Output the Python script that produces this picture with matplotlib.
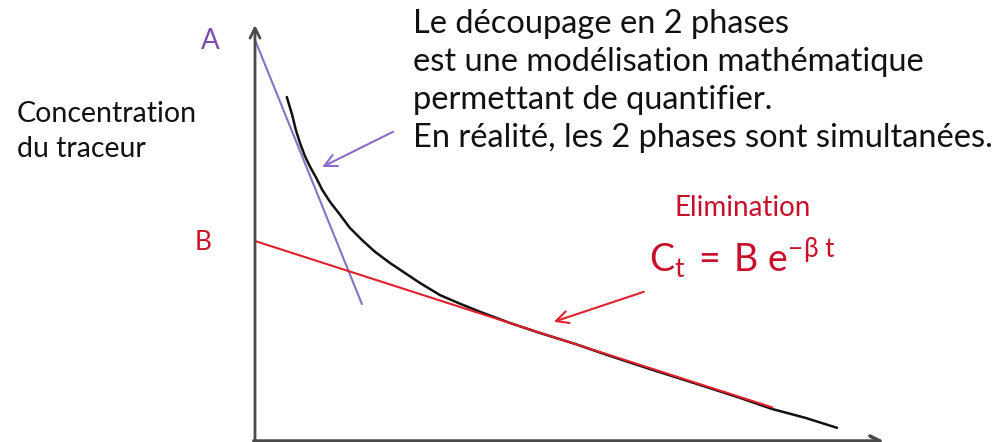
import numpy as np
import matplotlib.pyplot as plt

plt.rcParams['font.family'] = ['Lato', 'DejaVu Sans']
plt.rcParams['mathtext.fontset'] = 'custom'
plt.rcParams['mathtext.rm'] = 'Lato'

# concentration curve (time, concentration)
t_curve = [0.53, 0.62, 0.68, 0.75, 0.83, 0.92, 1.02, 1.12, 1.25, 1.42, 1.58, 1.78, 2.00,
           2.25, 2.50, 2.75, 3.08, 3.42, 3.75, 4.25, 4.75, 5.33, 5.87, 6.58, 7.42, 8.08,
           8.62, 9.17, 9.70]
c_curve = [8.60, 8.15, 7.78, 7.45, 7.13, 6.85, 6.58, 6.28, 5.98, 5.65, 5.33, 5.03, 4.73,
           4.45, 4.20, 3.95, 3.65, 3.43, 3.23, 2.95, 2.70, 2.43, 2.15, 1.80, 1.40, 1.08,
           0.80, 0.58, 0.33]

# tangent of the distribution phase (through A)
t_dist = [0.0, 1.78]
c_dist = [10.03, 3.43]

# tangent of the elimination phase (through B)
t_elim = [0.0, 8.62]
c_elim = [5.0, 0.84]

A_val = 10.0
B_val = 4.95

texte = ["Le découpage en 2 phases",
         "est une modélisation mathématique",
         "permettant de quantifier.",
         "En réalité, les 2 phases sont simultanées."]

fig = plt.figure(figsize=(10.02, 4.42), dpi=100)
ax = fig.add_axes([0, 0, 1, 1])
ax.set_xlim(-4.25, 12.45)
ax.set_ylim(-0.025, 11.025)
ax.axis('off')

grey = '#4a4a4a'
purple = '#8274c4'
red = '#e0202a'
red_txt = '#c8102a'

# axes with arrows
ax.annotate('', xy=(0, 10.4), xytext=(0, 0),
            arrowprops=dict(arrowstyle='->', lw=2, color=grey, shrinkA=0, shrinkB=0, mutation_scale=18))
ax.annotate('', xy=(10.48, 0), xytext=(-0.02, 0),
            arrowprops=dict(arrowstyle='->', lw=2.5, color=grey, shrinkA=0, shrinkB=0, mutation_scale=18))

ax.plot(t_curve, c_curve, color='#111111', lw=1.8, solid_capstyle='round')
ax.plot(t_dist, c_dist, color=purple, lw=1.5)
ax.plot(t_elim, c_elim, color=red, lw=1.5)

ax.text(-0.75, A_val, "A", color='#7a4fa8', fontsize=20, ha='center', va='center')
ax.text(-0.87, B_val, "B", color=red_txt, fontsize=19, ha='center', va='center')

ax.text(-3.97, 7.98, "Concentration", fontsize=20.5, va='baseline', color='#111111')
ax.text(-3.97, 7.1, "du traceur", fontsize=20.5, va='baseline', color='#111111')

for i, ligne in enumerate(texte):
    ax.text(2.63, 10.2 - 0.95 * i, ligne, fontsize=23.5, va='baseline', color='#111111')

ax.text(8.12, 5.63, "Elimination", fontsize=20, color=red_txt, ha='center', va='baseline')
ax.text(8.12, 4.23, r"$\mathregular{C_t\,=\,B\;e^{-β\;t}}$", fontsize=27, color=red_txt,
        ha='center', va='baseline')

# arrows pointing to the tangents
ax.annotate('', xy=(1.12, 6.85), xytext=(2.3, 7.73),
            arrowprops=dict(arrowstyle='->', lw=1.5, color='#8a6cc8', shrinkA=0, shrinkB=0, mutation_scale=22))
ax.annotate('', xy=(4.98, 2.98), xytext=(6.48, 3.73),
            arrowprops=dict(arrowstyle='->', lw=1.5, color=red, shrinkA=0, shrinkB=0, mutation_scale=22))

fig.savefig('out.png', dpi=100)
